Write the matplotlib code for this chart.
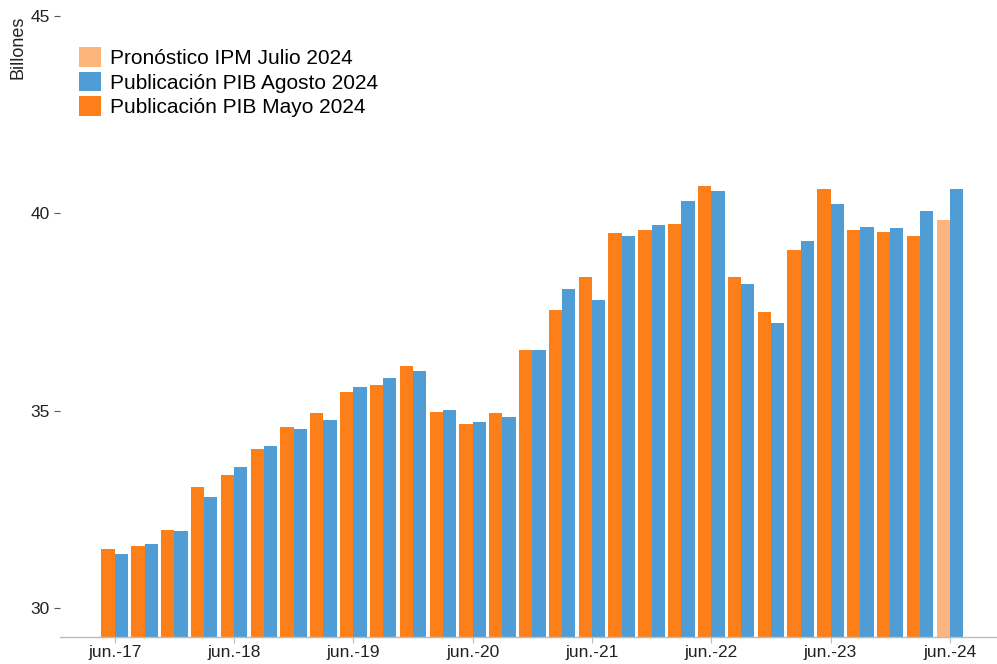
import matplotlib
matplotlib.use("Agg")
import matplotlib.pyplot as plt
import numpy as np
from matplotlib.patches import Patch

plt.rcParams['font.family'] = ['Liberation Sans', 'DejaVu Sans']

quarters = ["jun.-17", "sep.-17", "dic.-17", "mar.-18", "jun.-18", "sep.-18", "dic.-18",
            "mar.-19", "jun.-19", "sep.-19", "dic.-19", "mar.-20", "jun.-20", "sep.-20",
            "dic.-20", "mar.-21", "jun.-21", "sep.-21", "dic.-21", "mar.-22", "jun.-22",
            "sep.-22", "dic.-22", "mar.-23", "jun.-23", "sep.-23", "dic.-23", "mar.-24",
            "jun.-24"]

mayo_2024 = [31.50, 31.57, 31.98, 33.06, 33.37, 34.03, 34.59, 34.94, 35.46, 35.66,
             36.12, 34.97, 34.66, 34.95, 36.53, 37.54, 38.39, 39.49, 39.57, 39.74,
             40.69, 38.38, 37.51, 39.08, 40.63, 39.59, 39.53, 39.42]
agosto_2024 = [31.37, 31.62, 31.95, 32.81, 33.58, 34.11, 34.54, 34.75, 35.60, 35.82,
               36.00, 35.01, 34.72, 34.83, 36.54, 38.09, 37.80, 39.42, 39.70, 40.31,
               40.56, 38.21, 37.23, 39.31, 40.25, 39.66, 39.62, 40.07, 40.61]
pronostico_jul_2024 = [39.82]

tick_labels = ["jun.-17", "jun.-18", "jun.-19", "jun.-20", "jun.-21", "jun.-22", "jun.-23", "jun.-24"]

c_orange = "#FD7F1A"
c_blue = "#509DD6"
c_light = "#FDB57E"

fig = plt.figure(figsize=(9.97, 6.64), dpi=100)
ax = fig.add_axes([0.060, 0.0407, 0.940, 0.9593])

x = np.arange(len(quarters))
w = 0.445
bottom = 29.26
n_m = len(mayo_2024)
ax.bar(x[:n_m] - w / 2, np.array(mayo_2024) - bottom, width=w, bottom=bottom,
       color=c_orange, linewidth=0)
ax.bar(x[n_m:] - w / 2, np.array(pronostico_jul_2024) - bottom, width=w,
       bottom=bottom, color=c_light, linewidth=0)
ax.bar(x + w / 2, np.array(agosto_2024) - bottom, width=w, bottom=bottom,
       color=c_blue, linewidth=0)

ax.set_ylim(bottom, 45.41)
ax.set_xlim(-1.84, 29.58)

tick_pos = [quarters.index(t) for t in tick_labels]
ax.set_xticks(tick_pos)
ax.set_xticklabels(tick_labels, fontsize=12.5, color="#222222")
ax.set_yticks([30, 35, 40, 45])
ax.set_yticklabels(["30", "35", "40", "45"], fontsize=12.5, color="#222222")

for s in ["top", "right", "left"]:
    ax.spines[s].set_visible(False)
ax.spines["bottom"].set_color("#BBBBBB")
ax.spines["bottom"].set_linewidth(1.0)
ax.tick_params(axis="x", length=4, color="#BBBBBB", pad=2)
ax.tick_params(axis="y", length=4, color="#555555", pad=3)

fig.text(0.018, 0.929, "Billones", rotation=90, va="center", ha="center",
         fontsize=13, color="#222222")

handles = [Patch(facecolor=c_light, edgecolor="none"),
           Patch(facecolor=c_blue, edgecolor="none"),
           Patch(facecolor=c_orange, edgecolor="none")]
labels = ["Pronóstico IPM Julio 2024", "Publicación PIB Agosto 2024", "Publicación PIB Mayo 2024"]
fig.legend(handles, labels, loc="upper left", bbox_to_anchor=(0.079, 0.929),
           frameon=False, fontsize=15, handlelength=1.08, handleheight=1.08,
           labelspacing=0.17, handletextpad=0.44, borderpad=0, borderaxespad=0)

fig.savefig("out.png", dpi=100)
